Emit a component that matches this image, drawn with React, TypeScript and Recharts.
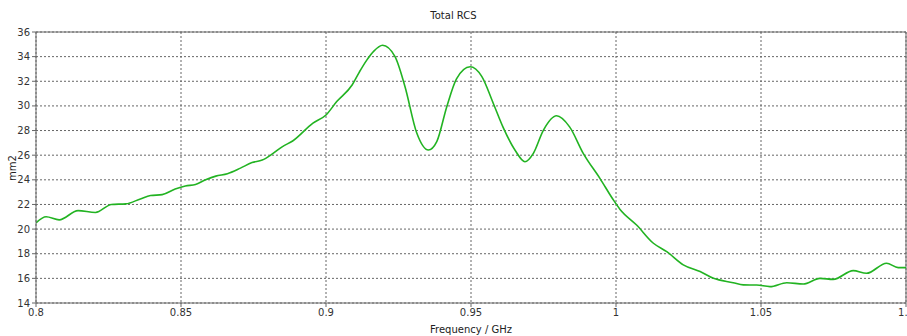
import {
  CartesianGrid,
  Line,
  LineChart,
  ReferenceLine,
  XAxis,
  YAxis,
} from "recharts";

const freq = [
  0.8, 0.8035, 0.808, 0.8145, 0.8205, 0.826, 0.831, 0.836, 0.8395, 0.8435,
  0.848, 0.8515, 0.855, 0.8585, 0.862, 0.866, 0.8705, 0.8745, 0.878, 0.8815,
  0.885, 0.8885, 0.8955, 0.9, 0.9037, 0.909, 0.9115, 0.914, 0.9165, 0.9195,
  0.9238, 0.9272, 0.9313, 0.9353, 0.9382, 0.9416, 0.945, 0.9497, 0.9537, 0.9577,
  0.961, 0.9652, 0.9686, 0.9715, 0.9749, 0.9795, 0.984, 0.9887, 0.9945, 0.999,
  1.0014, 1.0071, 1.0129, 1.0175, 1.0232, 1.029, 1.0336, 1.0404, 1.0439, 1.0485,
  1.0531, 1.0589, 1.0646, 1.0703, 1.0749, 1.0818, 1.0864, 1.0933, 1.0973, 1.1,
];

const rcs = [
  20.5, 21.0, 20.75, 21.5, 21.35, 22.0, 22.05, 22.45, 22.72, 22.8,
  23.25, 23.5, 23.62, 24.0, 24.3, 24.5, 24.95, 25.4, 25.6, 26.1,
  26.7, 27.15, 28.6, 29.26, 30.35, 31.7, 32.75, 33.7, 34.45, 34.92,
  34.0, 31.6, 27.8, 26.42, 27.1, 29.9, 32.2, 33.18, 32.4, 30.2,
  28.3, 26.4, 25.47, 26.15, 28.0, 29.2, 28.3, 26.15, 24.1, 22.4,
  21.6, 20.33, 18.85, 18.17, 17.1, 16.55, 16.0, 15.65, 15.47, 15.46,
  15.33, 15.65, 15.54, 16.0, 15.92, 16.63, 16.41, 17.23, 16.87, 16.87,
];

const xTicks = [0.8, 0.85, 0.9, 0.95, 1, 1.05, 1.1];
const yTicks = [14, 16, 18, 20, 22, 24, 26, 28, 30, 32, 34, 36];

const data = freq.map((f, i) => ({ f, rcs: rcs[i] }));

const font = "Tahoma, 'DejaVu Sans', sans-serif";
const tickStyle = { fontSize: 10, fill: "#333", fontFamily: font };

export default function App() {
  return (
    <div
      style={{
        position: "absolute",
        left: 0,
        top: 0,
        width: 907,
        height: 336,
        background: "#fff",
        fontFamily: font,
      }}
    >
      <div
        style={{
          position: "absolute",
          top: 10,
          left: 0,
          width: 907,
          textAlign: "center",
          fontSize: 10,
          color: "#222",
        }}
      >
        Total RCS
      </div>
      <div
        style={{
          position: "absolute",
          left: 12,
          top: 168,
          transform: "translate(-50%, -50%) rotate(-90deg)",
          fontSize: 10,
          color: "#222",
          whiteSpace: "nowrap",
        }}
      >
        mm2
      </div>
      <LineChart
        width={907}
        height={336}
        data={data}
        margin={{ top: 32, right: 1, left: 0, bottom: 0 }}
      >
        <CartesianGrid
          stroke="#666"
          strokeDasharray="2 2"
          verticalValues={xTicks}
          horizontalValues={yTicks}
        />
        <XAxis
          dataKey="f"
          type="number"
          domain={[0.8, 1.1]}
          ticks={xTicks}
          interval={0}
          height={33}
          tick={tickStyle}
          tickSize={4}
          stroke="#666"
          allowDataOverflow
          label={{
            value: "Frequency / GHz",
            position: "insideBottom",
            offset: 3,
            style: { fontSize: 10, fill: "#222", fontFamily: font },
          }}
        />
        <YAxis
          type="number"
          domain={[14, 36]}
          ticks={yTicks}
          interval={0}
          width={36}
          tick={tickStyle}
          tickSize={4}
          stroke="#666"
          allowDataOverflow
        />
        <ReferenceLine y={36} stroke="#666" strokeWidth={1} />
        <ReferenceLine x={1.1} stroke="#666" strokeWidth={1} />
        <Line
          type="monotone"
          dataKey="rcs"
          stroke="#22b322"
          strokeWidth={1.6}
          dot={false}
          isAnimationActive={false}
        />
      </LineChart>
    </div>
  );
}
